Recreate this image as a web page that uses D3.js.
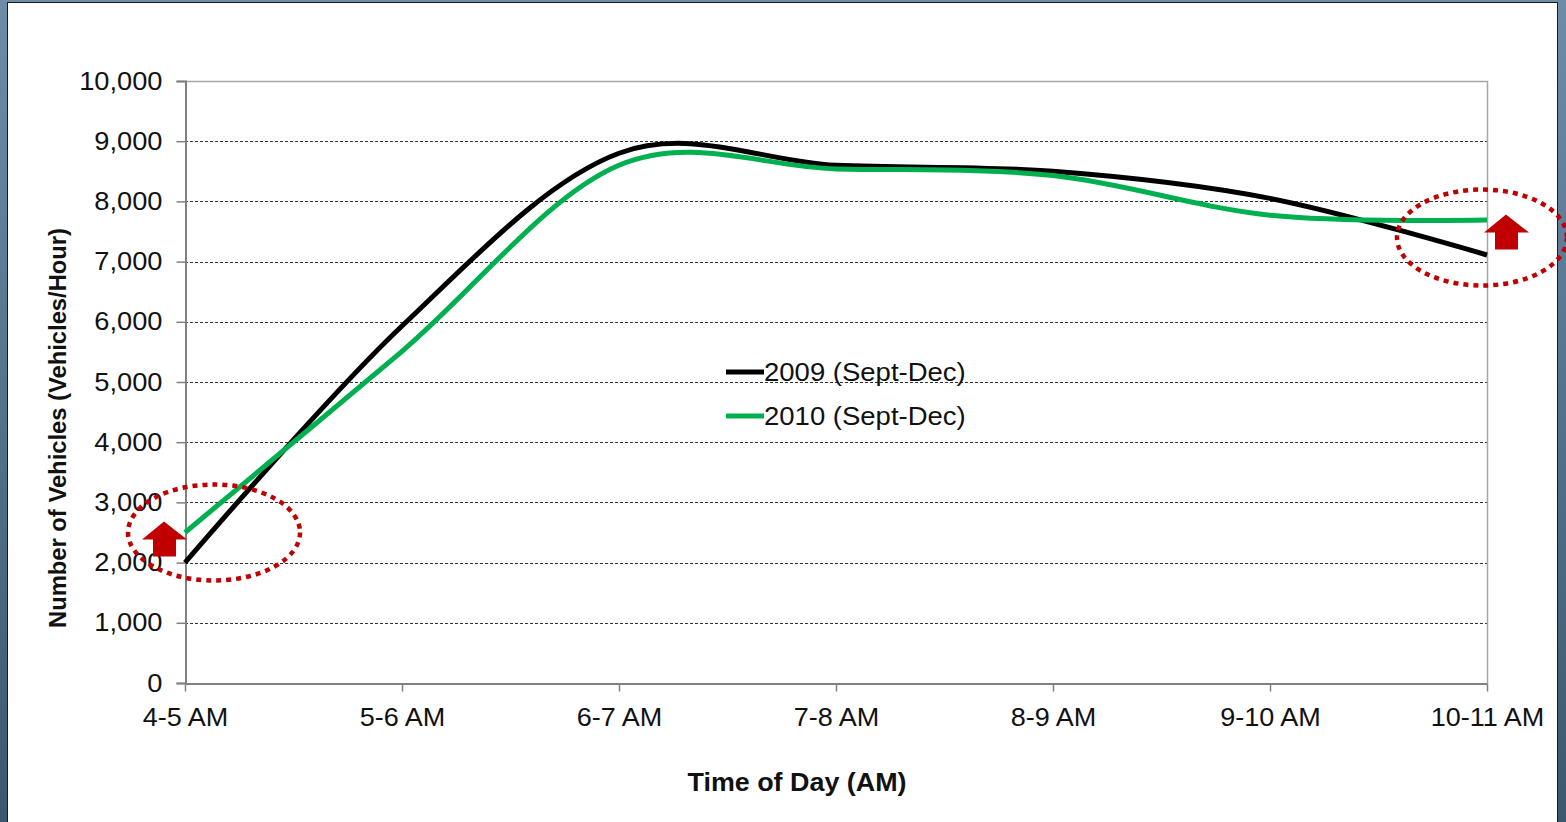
<!DOCTYPE html>
<html lang="en">
<head>
    <meta charset="UTF-8">
    <title>Vehicles per hour</title>
    <script src="https://d3js.org/d3.v7.min.js"></script>
    <style>
        html, body { margin: 0; padding: 0; }
        body { width: 1566px; height: 822px; overflow: hidden; }
        svg { display: block; }
        text { font-family: "Liberation Sans", Arial, sans-serif; fill: #111; }
    </style>
</head>
<body>
<svg id="chart" width="1566" height="822"></svg>

<script>
    // data
    const hours = ["4-5 AM", "5-6 AM", "6-7 AM", "7-8 AM", "8-9 AM", "9-10 AM", "10-11 AM"];
    const vol2009 = [2000, 5930, 8800, 8600, 8500, 8050, 7110];
    const vol2010 = [2500, 5510, 8600, 8540, 8430, 7770, 7690];
    const yTicks = [0, 1000, 2000, 3000, 4000, 5000, 6000, 7000, 8000, 9000, 10000];
    const seriesNames = ["2009 (Sept-Dec)", "2010 (Sept-Dec)"];
    const seriesColors = ["#000000", "#00b050"];

    const W = 1566, H = 822;
    const plotL = 185, plotR = 1487, plotT = 81, plotB = 683;

    // the slide text is a bit wider than the font, stretch it
    function stretch(sel, k) {
        sel.each(function () {
            const w = this.getComputedTextLength();
            d3.select(this).attr("textLength", w * k).attr("lengthAdjust", "spacingAndGlyphs");
        });
    }

    const svg = d3.select("#chart");

    // slide frame
    const defs = svg.append("defs");
    const grad = defs.append("linearGradient")
        .attr("id", "frameGrad").attr("x1", 0).attr("y1", 0).attr("x2", 0).attr("y2", 1);
    grad.append("stop").attr("offset", "0%").attr("stop-color", "#6d8ca8");
    grad.append("stop").attr("offset", "100%").attr("stop-color", "#3c5870");

    svg.append("rect").attr("width", W).attr("height", H).attr("fill", "url(#frameGrad)");
    svg.append("rect")
        .attr("x", 7.5).attr("y", 2.5).attr("width", 1550).attr("height", 830)
        .attr("fill", "#fff").attr("stroke", "#1a1a1a").attr("stroke-width", 1);

    const x = d3.scalePoint()
        .domain(hours)
        .range([plotL, plotR]);

    const y = d3.scaleLinear()
        .domain([0, 10000])
        .range([plotB, plotT]);

    // gridlines
    svg.append("g")
        .selectAll("line")
        .data(yTicks.filter(d => d > 0 && d < 10000)).enter()
        .append("line")
        .attr("x1", plotL).attr("x2", plotR)
        .attr("y1", d => Math.round(y(d)) + 0.5).attr("y2", d => Math.round(y(d)) + 0.5)
        .attr("stroke", "#333")
        .attr("stroke-width", 1)
        .attr("stroke-dasharray", "3,2");

    // plot area border top/right
    svg.append("path")
        .attr("d", "M" + plotL + "," + (plotT + 0.5) + "H" + (plotR + 0.5) + "V" + plotB)
        .attr("fill", "none")
        .attr("stroke", "#a6a6a6")
        .attr("stroke-width", 1.5);

    // y axis
    const yAxis = svg.append("g")
        .attr("transform", "translate(" + (plotL + 0.5) + ",0)")
        .call(d3.axisLeft(y).tickValues(yTicks).tickSize(9).tickPadding(14)
            .tickFormat(d3.format(",")));
    yAxis.select(".domain").attr("stroke", "#808080").attr("stroke-width", 2);
    yAxis.selectAll(".tick line").attr("stroke", "#808080").attr("stroke-width", 1.5);
    yAxis.selectAll(".tick text")
        .attr("font-size", 25)
        .attr("font-family", "Liberation Sans, Arial, sans-serif")
        .attr("fill", "#111")
        .call(stretch, 1.09);

    // x axis
    const xAxis = svg.append("g")
        .attr("transform", "translate(0," + (plotB + 0.5) + ")")
        .call(d3.axisBottom(x).tickSize(8).tickPadding(17).tickSizeOuter(0));
    xAxis.select(".domain").attr("stroke", "#808080").attr("stroke-width", 2);
    xAxis.selectAll(".tick line").attr("stroke", "#808080").attr("stroke-width", 1.5);
    xAxis.selectAll(".tick text")
        .attr("font-size", 25)
        .attr("font-family", "Liberation Sans, Arial, sans-serif")
        .attr("fill", "#111")
        .attr("dy", "0.71em")
        .call(stretch, 1.08);

    // lines
    const line = d3.line()
        .x((d, i) => x(hours[i]))
        .y(d => y(d))
        .curve(d3.curveCatmullRom.alpha(0));

    [vol2009, vol2010].forEach(function (vals, k) {
        svg.append("path")
            .datum(vals)
            .attr("d", line)
            .attr("fill", "none")
            .attr("stroke", seriesColors[k])
            .attr("stroke-width", 5);
    });

    // legend
    const legend = svg.append("g").attr("transform", "translate(726,372)");
    seriesNames.forEach(function (name, k) {
        const g = legend.append("g").attr("transform", "translate(0," + (k * 44) + ")");
        g.append("line")
            .attr("x1", 0).attr("x2", 38).attr("y1", 0).attr("y2", 0)
            .attr("stroke", seriesColors[k]).attr("stroke-width", 5);
        g.append("text")
            .attr("x", 38).attr("y", 9)
            .attr("font-size", 25)
            .text(name)
            .call(stretch, 1.1);
    });

    // axis titles
    svg.append("text")
        .attr("x", 797).attr("y", 791)
        .attr("text-anchor", "middle")
        .attr("font-size", 25)
        .attr("font-weight", "bold")
        .attr("textLength", 219)
        .attr("lengthAdjust", "spacingAndGlyphs")
        .text("Time of Day (AM)");

    svg.append("text")
        .attr("transform", "translate(66,428) rotate(-90)")
        .attr("text-anchor", "middle")
        .attr("font-size", 24)
        .attr("font-weight", "bold")
        .attr("textLength", 400)
        .attr("lengthAdjust", "spacingAndGlyphs")
        .text("Number of Vehicles (Vehicles/Hour)");

    // annotations: dotted circles and up arrows at first and last hour
    const red = "#c00000";
    const first = hours[0], last = hours[hours.length - 1];
    const marks = [
        { cx: x(first) + 29, cy: y(2500), rx: 86, ry: 48, ax: x(first) - 21, ay: y(2500) },
        { cx: x(last) - 5, cy: y(7400), rx: 85, ry: 48, ax: x(last) + 19, ay: y(7600) }
    ];
    marks.forEach(function (m) {
        svg.append("ellipse")
            .attr("cx", m.cx).attr("cy", m.cy).attr("rx", m.rx).attr("ry", m.ry)
            .attr("fill", "none")
            .attr("stroke", red)
            .attr("stroke-width", 4.5)
            .attr("stroke-dasharray", "5,5");
        const a = m.ax, b = m.ay;
        svg.append("path")
            .attr("d", "M" + a + "," + (b - 11) +
                "L" + (a + 23) + "," + (b + 7) +
                "L" + (a + 12) + "," + (b + 7) +
                "L" + (a + 12) + "," + (b + 24) +
                "L" + (a - 11) + "," + (b + 24) +
                "L" + (a - 11) + "," + (b + 7) +
                "L" + (a - 22) + "," + (b + 7) + "Z")
            .attr("fill", red);
    });
</script>
</body>
</html>
